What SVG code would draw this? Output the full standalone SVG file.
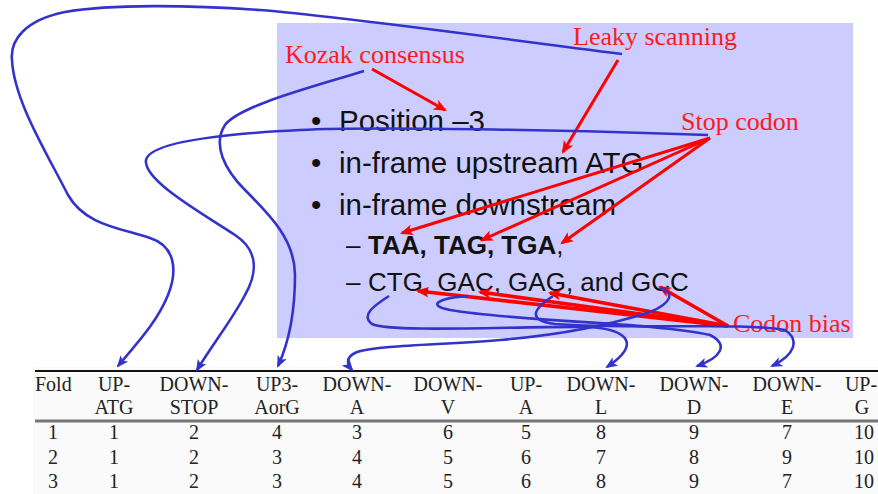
<svg xmlns="http://www.w3.org/2000/svg" width="878" height="494" viewBox="0 0 878 494">
  <defs>
    <style>
      .lbl { font-family: "Liberation Serif", "Times New Roman", serif; font-size: 26px; fill: #ff1a1a; }
      .bul { font-family: "Liberation Sans", Arial, sans-serif; font-size: 29.5px; fill: #111; }
      .sub { font-family: "Liberation Sans", Arial, sans-serif; font-size: 26px; fill: #111; }
      .tbl { font-family: "Liberation Serif", "Times New Roman", serif; font-size: 20px; fill: #222; text-anchor: middle; }
      .red { fill: none; stroke: #ff0000; stroke-width: 3; marker-end: url(#ah-red); }
      .fan { stroke-width: 3.6; }
      .blue { fill: none; stroke: #3333cc; stroke-width: 2.6; marker-end: url(#ah-blue); }
    </style>
    <marker id="ah-red" markerUnits="userSpaceOnUse" viewBox="0 0 12 10" markerWidth="13" markerHeight="11" refX="10" refY="5" orient="auto">
      <path d="M0,0 L12,5 L0,10 L3,5 z" fill="#ff0000"/>
    </marker>
    <marker id="ah-blue" markerUnits="userSpaceOnUse" viewBox="0 0 12 10" markerWidth="12" markerHeight="10" refX="10" refY="5" orient="auto">
      <path d="M0,0 L12,5 L0,10 L3,5 z" fill="#3333cc"/>
    </marker>
  </defs>

  <rect width="878" height="494" fill="#ffffff"/>

  <!-- slide panel -->
  <g id="panel">
    <rect x="277" y="23" width="576" height="315" fill="#ccccff"/>
    <text class="bul" x="311" y="131">•</text>
    <text class="bul" x="339" y="131">Position –3</text>
    <text class="bul" x="311" y="173">•</text>
    <text class="bul" x="339" y="173">in-frame upstream ATG</text>
    <text class="bul" x="311" y="215">•</text>
    <text class="bul" x="339" y="215">in-frame downstream</text>
    <text class="sub" x="346" y="254">–</text>
    <text class="sub" x="368" y="254"><tspan font-weight="bold">TAA, TAG, TGA</tspan>,</text>
    <text class="sub" x="346" y="291">–</text>
    <text class="sub" x="368" y="291">CTG, GAC, GAG, and GCC</text>
  </g>

  <!-- feature labels -->
  <g id="kozak"><text class="lbl" x="285" y="63">Kozak consensus</text></g>
  <g id="leaky"><text class="lbl" x="573" y="45">Leaky scanning</text></g>
  <g id="stop"><text class="lbl" x="681" y="130">Stop codon</text></g>
  <g id="bias"><text class="lbl" x="733" y="332">Codon bias</text></g>

  <!-- feature table -->
  <g id="table">
    <rect x="33" y="367" width="845" height="127" fill="#fafafa"/>
    <line x1="35" y1="371" x2="878" y2="371" stroke="#111" stroke-width="2"/>
    <line x1="35" y1="421" x2="878" y2="421" stroke="#777" stroke-width="3"/>
    <text class="tbl" x="35" y="391" style="text-anchor:start">Fold</text>
    <text class="tbl" x="114" y="391">UP-</text><text class="tbl" x="114" y="414">ATG</text>
    <text class="tbl" x="194" y="391">DOWN-</text><text class="tbl" x="194" y="414">STOP</text>
    <text class="tbl" x="277" y="391">UP3-</text><text class="tbl" x="277" y="414">AorG</text>
    <text class="tbl" x="357" y="391">DOWN-</text><text class="tbl" x="357" y="414">A</text>
    <text class="tbl" x="448" y="391">DOWN-</text><text class="tbl" x="448" y="414">V</text>
    <text class="tbl" x="526" y="391">UP-</text><text class="tbl" x="526" y="414">A</text>
    <text class="tbl" x="601" y="391">DOWN-</text><text class="tbl" x="601" y="414">L</text>
    <text class="tbl" x="694" y="391">DOWN-</text><text class="tbl" x="694" y="414">D</text>
    <text class="tbl" x="787" y="391">DOWN-</text><text class="tbl" x="787" y="414">E</text>
    <text class="tbl" x="861" y="391">UP-</text><text class="tbl" x="862" y="414">G</text>

    <g>
      <text class="tbl" x="53" y="439">1</text><text class="tbl" x="114" y="439">1</text><text class="tbl" x="194" y="439">2</text>
      <text class="tbl" x="277" y="439">4</text><text class="tbl" x="357" y="439">3</text><text class="tbl" x="448" y="439">6</text>
      <text class="tbl" x="526" y="439">5</text><text class="tbl" x="601" y="439">8</text><text class="tbl" x="694" y="439">9</text>
      <text class="tbl" x="787" y="439">7</text><text class="tbl" x="864" y="439">10</text>
    </g>
    <g>
      <text class="tbl" x="53" y="464">2</text><text class="tbl" x="114" y="464">1</text><text class="tbl" x="194" y="464">2</text>
      <text class="tbl" x="277" y="464">3</text><text class="tbl" x="357" y="464">4</text><text class="tbl" x="448" y="464">5</text>
      <text class="tbl" x="526" y="464">6</text><text class="tbl" x="601" y="464">7</text><text class="tbl" x="694" y="464">8</text>
      <text class="tbl" x="787" y="464">9</text><text class="tbl" x="864" y="464">10</text>
    </g>
    <g>
      <text class="tbl" x="53" y="488">3</text><text class="tbl" x="114" y="488">1</text><text class="tbl" x="194" y="488">2</text>
      <text class="tbl" x="277" y="488">3</text><text class="tbl" x="357" y="488">4</text><text class="tbl" x="448" y="488">5</text>
      <text class="tbl" x="526" y="488">6</text><text class="tbl" x="601" y="488">8</text><text class="tbl" x="694" y="488">9</text>
      <text class="tbl" x="787" y="488">7</text><text class="tbl" x="864" y="488">10</text>
    </g>
  </g>

  <!-- connectors -->
  <g id="connectors">
    <!-- label to text pointers -->
    <path class="red" d="M372,69 L445,110"/>
    <path class="red" d="M618,60 L563,152"/>
    <path class="red" d="M710,138 L402,233"/>
    <path class="red" d="M710,138 L482,240"/>
    <path class="red" d="M710,138 L562,243"/>
    <path class="red fan" d="M728,326 L418,291"/>
    <path class="red fan" d="M728,326 L480,292"/>
    <path class="red fan" d="M728,326 L550,293"/>
    <path class="red fan" d="M728,326 L660,287"/>

    <!-- label / codon to table column -->
    <path class="blue" d="M622,54 C480,36 330,15 260,10 C190,5 110,4 65,12 C25,20 10,40 12,60 C14,100 45,150 68,195 C85,225 120,228 150,238 C175,246 178,270 168,295 C158,320 140,340 118,366"/>
    <path class="blue" d="M708,135 C600,131 380,126 300,130 C220,134 150,142 146,160 C143,180 200,212 235,235 C258,250 258,272 245,295 C232,320 212,345 197,370"/>
    <path class="blue" d="M364,71 C320,85 240,105 225,125 C212,145 225,170 245,190 C270,215 295,240 295,275 C295,310 290,340 278,366"/>
    <path class="blue" d="M389,296 C375,305 360,315 372,324 C390,333 520,326 590,327 C630,330 640,345 607,367"/>
    <path class="blue" d="M468,296 C440,298 425,305 450,310 C520,322 650,322 710,335 C730,345 720,358 697,366"/>
    <path class="blue" d="M553,296 C535,308 525,320 555,324 C640,330 740,322 785,330 C800,340 795,355 772,366"/>
    <path class="blue" d="M660,288 C675,292 672,303 650,312 C610,325 560,335 500,340 C440,345 380,345 357,352 C345,357 347,364 352,370"/>
  </g>
</svg>
